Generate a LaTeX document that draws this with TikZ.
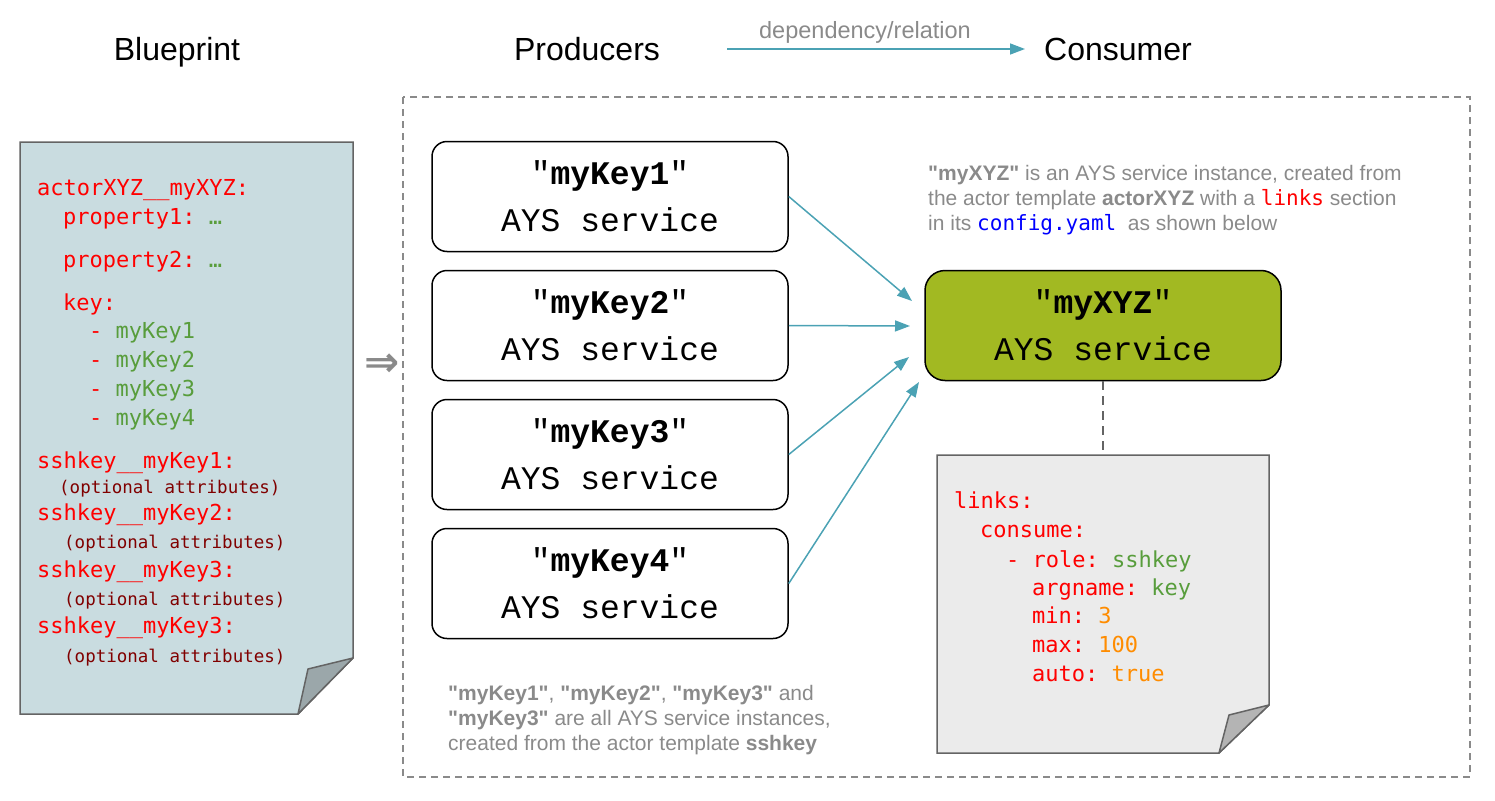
\documentclass[tikz,border=0pt]{standalone}
\usepackage{fontspec}
\setmainfont{Liberation Sans}
\setmonofont{DejaVu Sans Mono}
\newfontfamily\courierfont{Liberation Mono}
\newfontfamily\arrowfont{DejaVu Sans}
\usepackage{xcolor}
\usepackage{tikz}
\usetikzlibrary{positioning,calc,arrows.meta}

\definecolor{relteal}{RGB}{75,162,180}
\definecolor{notegray}{RGB}{138,138,138}
\definecolor{edgegray}{RGB}{100,100,100}
\definecolor{bpfill}{RGB}{201,220,224}
\definecolor{bpfold}{RGB}{155,167,170}
\definecolor{cfgfill}{RGB}{235,235,235}
\definecolor{cfgfold}{RGB}{180,180,180}
\definecolor{consgreen}{RGB}{162,185,34}
\definecolor{yamlred}{RGB}{255,0,0}
\definecolor{yamlgreen}{RGB}{88,157,60}
\definecolor{yamldark}{RGB}{128,0,0}
\definecolor{yamlorange}{RGB}{255,140,0}
\definecolor{yamlblue}{RGB}{0,0,255}

\newcommand{\qname}[1]{\textbf{\textquotedbl #1\textquotedbl}}

\begin{document}
\begin{tikzpicture}[x=1pt, y=-1pt,
  title/.style={anchor=base, inner sep=0pt, font=\fontsize{32}{36}\selectfont},
  code/.style={anchor=base west, inner sep=0pt, text=yamlred, font=\ttfamily\fontsize{22}{26}\selectfont},
  optattr/.style={anchor=base west, inner sep=0pt, text=yamldark, font=\ttfamily\fontsize{17.5}{20}\selectfont},
  note/.style={anchor=base west, inner sep=0pt, text=notegray, font=\fontsize{21}{25}\selectfont},
  service/.style={draw, line width=1.5pt, rounded corners=15pt, minimum width=356pt, minimum height=110pt,
    align=center, font=\courierfont\fontsize{33}{47}\selectfont},
  dep/.style={draw=relteal, line width=1.5pt, -{Triangle[length=15pt, width=11pt]}, relteal}]
  \useasboundingbox (0,0) rectangle (1495,800);

  % Headings
  \node[title] (hblue) at (177,60) {Blueprint};
  \node[title] (hprod) at (587,60) {Producers};
  \node[title] (hcons) at (1118,60) {Consumer};
  \coordinate (legA) at (727,49);
  \coordinate (legB) at (1025,49);
  \draw[dep] (legA) -- (legB);
  \node[anchor=base, inner sep=0pt, text=notegray, font=\fontsize{23.5}{26}\selectfont] (deplabel) at (865,38) {dependency/relation};

  % Blueprint document
  \draw[line width=1.5pt, draw=edgegray, fill=bpfill] (20,142) -- (353,142) -- (353,658) -- (298,714) -- (20,714) -- cycle;
  \draw[line width=1.5pt, draw=edgegray, fill=bpfold, line join=round] (353,658) -- (308,669) -- (298,714) -- cycle;
  \node[code] (bp1) at (37,195) {actorXYZ\_\_myXYZ:};
  \node[code] (bp2) at (63,224) {property1: \textcolor{yamlgreen}{…}};
  \node[code] (bp3) at (63,267) {property2: \textcolor{yamlgreen}{…}};
  \node[code] (bp4) at (63,310) {key:};
  \node[code] (bp5) at (89,338) {- \textcolor{yamlgreen}{myKey1}};
  \node[code] (bp6) at (89,367) {- \textcolor{yamlgreen}{myKey2}};
  \node[code] (bp7) at (89,396) {- \textcolor{yamlgreen}{myKey3}};
  \node[code] (bp8) at (89,425) {- \textcolor{yamlgreen}{myKey4}};
  \node[code] (bp9) at (37,468) {sshkey\_\_myKey1:};
  \node[optattr] (bp10) at (59,493) {(optional attributes)};
  \node[code] (bp11) at (37,520) {sshkey\_\_myKey2:};
  \node[optattr] (bp12) at (64,548) {(optional attributes)};
  \node[code] (bp13) at (37,577) {sshkey\_\_myKey3:};
  \node[optattr] (bp14) at (64,605) {(optional attributes)};
  \node[code] (bp15) at (37,633) {sshkey\_\_myKey3:};
  \node[optattr] (bp16) at (64,662) {(optional attributes)};

  \node[text=notegray, font=\arrowfont\bfseries\fontsize{42}{42}\selectfont] (deploy) at (382,365) {⇒};

  % Service frame
  \draw[draw=notegray, line width=1.5pt, dash pattern=on 7pt off 5pt] (403,97) rectangle (1470,777);

  % Producers
  \node[service] (key1) at (610,196.5) {"\textbf{myKey1}"\\AYS service};
  \node[service, below=17.5pt of key1] (key2) {"\textbf{myKey2}"\\AYS service};
  \node[service, below=17.5pt of key2] (key3) {"\textbf{myKey3}"\\AYS service};
  \node[service, below=17.5pt of key3] (key4) {"\textbf{myKey4}"\\AYS service};

  % Consumer
  \node[service, fill=consgreen, rounded corners=20pt] (xyz) at (1103,325.5) {"\textbf{myXYZ}"\\AYS service};
  \coordinate (tip1) at (912,301);
  \coordinate (tip2) at (910,326);
  \coordinate (tip3) at (909,357);
  \coordinate (tip4) at (919,382);
  \draw[dep] (key1.east) -- (tip1);
  \draw[dep] (key2.east) -- (tip2);
  \draw[dep] (key3.east) -- (tip3);
  \draw[dep] (key4.east) -- (tip4);

  % Notes
  \node[note] (xyznote1) at (928,180) {\qname{myXYZ} is an AYS service instance, created from};
  \node[note] (xyznote2) at (928,205) {the actor template \textbf{actorXYZ} with a {\ttfamily\color{yamlred}links} section};
  \node[note] (xyznote3) at (928,230) {in its {\ttfamily\color{yamlblue}config.yaml}\ \ as shown below};
  \node[note] (keynote1) at (448,700) {\qname{myKey1}, \qname{myKey2}, \qname{myKey3} and};
  \node[note] (keynote2) at (448,725) {\qname{myKey3} are all AYS service instances,};
  \node[note] (keynote3) at (448,750) {created from the actor template \textbf{sshkey}};

  % config.yaml document
  \coordinate (cfgtop) at (1103,455);
  \draw[draw=edgegray, line width=1.5pt, dash pattern=on 9pt off 6pt] (xyz.south) -- (cfgtop);
  \draw[line width=1.5pt, draw=edgegray, fill=cfgfill] (937,455) -- (1269,455) -- (1269,705) -- (1219,753) -- (937,753) -- cycle;
  \draw[line width=1.5pt, draw=edgegray, fill=cfgfold, line join=round] (1269,705) -- (1229,715) -- (1219,753) -- cycle;
  \node[code] (cfg1) at (954,508) {links:};
  \node[code] (cfg2) at (980,537) {consume:};
  \node[code] (cfg3) at (1006,567) {- role: \textcolor{yamlgreen}{sshkey}};
  \node[code] (cfg4) at (1032,595) {argname: \textcolor{yamlgreen}{key}};
  \node[code] (cfg5) at (1032,623) {min: \textcolor{yamlorange}{3}};
  \node[code] (cfg6) at (1032,652) {max: \textcolor{yamlorange}{100}};
  \node[code] (cfg7) at (1032,681) {auto: \textcolor{yamlorange}{true}};
\end{tikzpicture}
\end{document}
